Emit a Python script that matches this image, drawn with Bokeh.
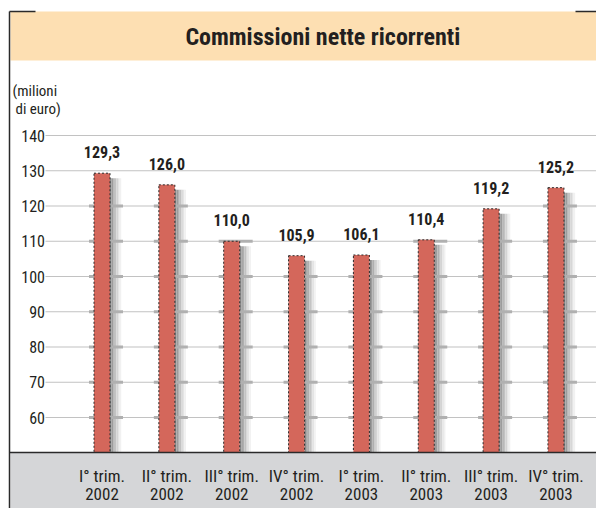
from bokeh.plotting import figure
from bokeh.models import Range1d
from bokeh.core.properties import value
from bokeh.embed import file_html
from bokeh.resources import INLINE

title_text = "Commissioni nette ricorrenti"
unit_lines = ["(milioni", "di euro)"]
categories = ["I° trim.\n2002", "II° trim.\n2002", "III° trim.\n2002", "IV° trim.\n2002",
              "I° trim.\n2003", "II° trim.\n2003", "III° trim.\n2003", "IV° trim.\n2003"]
values = [129.3, 126.0, 110.0, 105.9, 106.1, 110.4, 119.2, 125.2]
y_ticks = [60, 70, 80, 90, 100, 110, 120, 130, 140]

FONT = "'Liberation Sans Narrow', 'Arial Narrow', 'Roboto Condensed', Roboto, sans-serif"
TXT = "#231f20"

W, H = 596, 508
X0, DX = 101.5, 64.85   # pixel of first category, pixels per category
Y0, DY = 135.0, 3.525   # pixel of value 140, pixels per unit


def X(px):
    return (px - X0) / DX


def Y(py):
    return 140 - (py - Y0) / DY


xs = list(range(len(values)))
base = Y(452)

p = figure(width=W, height=H, x_range=Range1d(X(0), X(W)), y_range=Range1d(Y(H), Y(0)),
           output_backend="svg", toolbar_location=None,
           x_axis_location=None, y_axis_location=None,
           min_border=0, min_border_left=0, min_border_right=0, min_border_top=0, min_border_bottom=0,
           outline_line_color=None, background_fill_color="white", border_fill_color="white")
p.xgrid.visible = False
p.ygrid.visible = False

# title band and bottom band
p.quad(left=X(10), right=X(600), top=Y(11), bottom=Y(60), fill_color="#FDDFB2", line_color=None)
p.quad(left=X(10), right=X(600), top=Y(452), bottom=Y(520), fill_color="#D5D6D8", line_color=None)

# gridlines
p.segment(x0=X(45), x1=X(600), y0=y_ticks, y1=y_ticks, line_color="#c2c2c2", line_width=1.2)

# shadows
shadow_cols = ["#8a8a8a", "#9c9c9c", "#afafaf", "#c2c2c2", "#d4d4d4", "#e4e4e4", "#f1f1f1"]
sw = 1.6
for k, c in enumerate(shadow_cols):
    p.vbar(x=[x + (8 + (k + 0.5) * sw) / DX for x in xs], top=[v - 5 / DY for v in values],
           bottom=base, width=sw / DX, fill_color=c, line_color=None)

# thicker gridline pieces where gridlines meet bars
sx0, sx1, sy = [], [], []
for x, v in zip(xs, values):
    for t in y_ticks:
        if t <= v:
            sx0.append(x - 13 / DX)
            sx1.append(x + 21 / DX)
            sy.append(t)
p.segment(x0=sx0, x1=sx1, y0=sy, y1=sy, line_color="#b0b0b0", line_width=3)

# bars
p.vbar(x=xs, top=values, bottom=base, width=16 / DX, fill_color="#D4675B",
       line_color="#2b2b2b", line_dash="2 2", line_width=1)

# frame lines
p.segment(x0=[X(9), X(9), X(575), X(9)], x1=[X(9), X(35), X(600), X(600)],
          y0=[Y(11), Y(11), Y(11), Y(452)], y1=[Y(520), Y(11), Y(11), Y(452)],
          line_color="#2a2a2a", line_width=1.5)

# value labels
p.text(x=xs, y=[v + 21 / DY for v in values], text=[f"{v:.1f}".replace(".", ",") for v in values],
       text_align="center", text_baseline="middle", text_font=value(FONT),
       text_font_size="16px", text_font_style="bold", text_color=TXT)

# y tick labels
p.text(x=X(44.5), y=y_ticks, text=[str(t) for t in y_ticks], text_align="right",
       text_baseline="middle", text_font=value(FONT), text_font_size="16px", text_color=TXT)

# category labels
p.text(x=xs, y=Y(475.5), text=[c.split("\n")[0] for c in categories], text_align="center",
       text_baseline="middle", text_font=value(FONT), text_font_size="17px", text_color=TXT)
p.text(x=xs, y=Y(493.5), text=[c.split("\n")[1] for c in categories], text_align="center",
       text_baseline="middle", text_font=value(FONT), text_font_size="17px", text_color=TXT)

# title and unit
p.text(x=X(322.3), y=Y(36.5), text=[title_text], text_align="center", text_baseline="middle",
       text_font=value(FONT), text_font_size="24px", text_font_style="bold", text_color=TXT)
p.text(x=[X(12), X(15)], y=[Y(90), Y(108)], text=unit_lines, text_align="left",
       text_baseline="middle", text_font=value(FONT), text_font_size="15px", text_color=TXT)

open("out.html", "w").write(file_html(p, INLINE))
